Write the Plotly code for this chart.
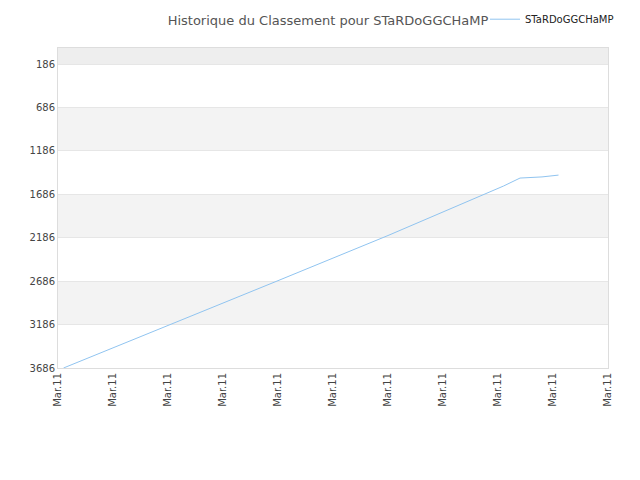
import plotly.graph_objects as go

# ranking history (x = day index, y = rank)
days = [1, 20, 40, 60, 81, 84, 88, 91]
ranks = [3686, 3200, 2680, 2160, 1590, 1498, 1485, 1464]
tick_vals = list(range(0, 101, 10))
tick_text = ["Mar.11"] * len(tick_vals)
y_ticks = [186, 686, 1186, 1686, 2186, 2686, 3186, 3686]

fig = go.Figure()
fig.add_trace(go.Scatter(x=days, y=ranks, mode="lines", name="STaRDoGGCHaMP",
                         line=dict(color="#90c4f0", width=1)))

# alternating background bands
bands = [(0, 186, "#eeeeee"), (686, 1186, "#f3f3f3"), (1686, 2186, "#f3f3f3"), (2686, 3186, "#f3f3f3")]
for y0, y1, c in bands:
    fig.add_shape(type="rect", xref="paper", x0=0, x1=1, y0=y0, y1=y1,
                  fillcolor=c, line_width=0, layer="below")

fig.update_layout(
    width=640, height=480,
    title=dict(text="Historique du Classement pour STaRDoGGCHaMP", x=0.5, xanchor="center",
               y=0.975, yanchor="middle", font=dict(family="DejaVu Sans", size=13, color="#555")),
    font=dict(family="DejaVu Sans", size=10, color="#444"),
    plot_bgcolor="white", paper_bgcolor="white",
    margin=dict(l=50, r=40, t=40, b=120, autoexpand=False),
    showlegend=True,
    legend=dict(x=1.02, y=1.09, xanchor="right", yanchor="middle", orientation="h",
                bgcolor="rgba(0,0,0,0)", font=dict(size=10, color="#222")),
    xaxis=dict(range=[0, 100], tickvals=tick_vals, ticktext=tick_text, tickangle=-90,
               automargin=False, showgrid=False, showline=True, linecolor="#ddd",
               mirror=True, zeroline=False),
    yaxis=dict(range=[3686, 0], tickvals=y_ticks, showgrid=True, gridcolor="#e6e6e6",
               automargin=False, showline=True, linecolor="#ddd", mirror=True, zeroline=False),
)

fig.write_html("out.html")
